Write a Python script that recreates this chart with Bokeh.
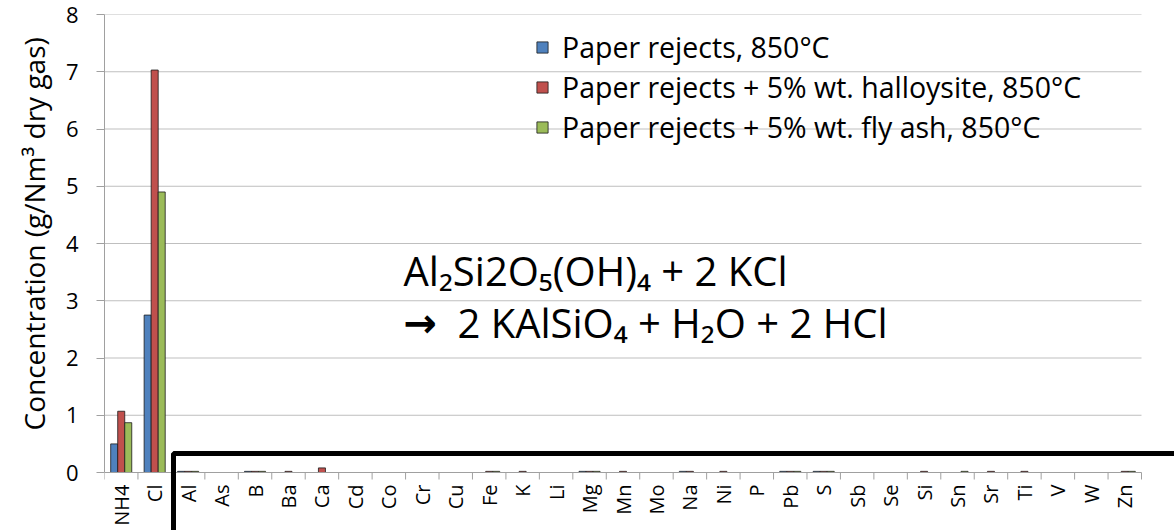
import math
from bokeh.plotting import figure
from bokeh.models import (Range1d, FixedTicker, Legend, LegendItem, Label,
                          BoxAnnotation, ColumnDataSource, Title)
from bokeh.core.properties import value
from bokeh.embed import file_html
from bokeh.resources import INLINE

# ---------------- data ----------------
categories = ["NH4", "Cl", "Al", "As", "B", "Ba", "Ca", "Cd", "Co", "Cr", "Cu",
              "Fe", "K", "Li", "Mg", "Mn", "Mo", "Na", "Ni", "P", "Pb", "S",
              "Sb", "Se", "Si", "Sn", "Sr", "Ti", "V", "W", "Zn"]

paper_rejects = [0.50, 2.75, 0.02, 0, 0.02, 0, 0, 0, 0, 0, 0,
                 0, 0, 0, 0.02, 0, 0, 0.02, 0, 0, 0.02, 0.02,
                 0, 0, 0, 0, 0, 0, 0, 0, 0]
halloysite = [1.07, 7.03, 0.02, 0, 0.02, 0.02, 0.08, 0, 0, 0, 0,
              0.02, 0.02, 0, 0.02, 0.02, 0, 0.02, 0.02, 0, 0.02, 0.02,
              0, 0, 0.02, 0, 0.02, 0.02, 0, 0, 0.02]
fly_ash = [0.87, 4.90, 0.02, 0, 0.02, 0, 0, 0, 0, 0, 0,
           0.02, 0, 0, 0.02, 0, 0, 0, 0, 0, 0.02, 0.02,
           0, 0, 0, 0.02, 0, 0, 0, 0, 0.02]

series_labels = ["Paper rejects, 850°C",
                 "Paper rejects + 5% wt. halloysite, 850°C",
                 "Paper rejects + 5% wt. fly ash, 850°C"]
series_values = [paper_rejects, halloysite, fly_ash]
series_colors = ["#4F81BD", "#C0504D", "#9BBB59"]

y_ticks = [0, 1, 2, 3, 4, 5, 6, 7, 8]
y_label = "Concentration (g/Nm³ dry gas)"
equation_line1 = "Al₂Si2O₅(OH)₄ + 2 KCl"
equation_arrow = "→"
equation_line2 = "2 KAlSiO₄ + H₂O + 2 HCl"

# ---------------- layout constants ----------------
FONT = "Open Sans"
W, H = 1174, 530
LEFT, TOP = 104, 14          # frame left / top in pixels
PX_PER_CAT = 1037 / 31       # category pitch in pixels
PX_PER_UNIT = 458 / 8        # y pixels per unit
n = len(categories)
x_end = (W - LEFT) / PX_PER_CAT
y_start = -(H - TOP) / PX_PER_UNIT + 8
bar_w = 0.21
offsets = [-bar_w, 0.0, bar_w]
AX_GREY = "#a0a0a0"

p = figure(width=W, height=H,
           x_range=Range1d(0, x_end), y_range=Range1d(y_start, 8),
           x_axis_location=None,
           output_backend="svg", toolbar_location=None,
           min_border_left=LEFT, min_border_right=0,
           min_border_top=TOP, min_border_bottom=0)
p.outline_line_color = None
p.background_fill_color = "white"
p.xgrid.visible = False
p.ygrid.visible = False

# horizontal gridlines (limited to the category span)
grid_y = [t for t in y_ticks if t > 0]
p.segment(x0=[0] * len(grid_y), x1=[n] * len(grid_y), y0=grid_y, y1=grid_y,
          line_color="#bfbfbf", line_width=1)

# bars
items = []
for label, vals, color, off in zip(series_labels, series_values, series_colors, offsets):
    xs = [k + 0.5 + off for k, v in enumerate(vals) if v > 0]
    tops = [v for v in vals if v > 0]
    src = ColumnDataSource(dict(x=xs, top=tops))
    r = p.vbar(x="x", top="top", bottom=0, width=bar_w, source=src,
               fill_color=color, line_color="#1a1a1a", line_width=0.8)
    items.append(LegendItem(label=label, renderers=[r]))

# category axis drawn from the data: baseline, boundary ticks, labels
tick_len = 7 / PX_PER_UNIT
p.segment(x0=[0], x1=[n], y0=[0], y1=[0], line_color=AX_GREY, line_width=1)
bounds_x = list(range(n + 1))
p.segment(x0=bounds_x, x1=bounds_x, y0=[0] * (n + 1), y1=[-tick_len] * (n + 1),
          line_color=AX_GREY, line_width=1)
centers = [k + 0.5 for k in range(n)]
p.text(x=centers, y=[-12 / PX_PER_UNIT] * n, text=categories, angle=math.pi / 2,
       text_align="right", text_baseline="middle",
       text_font=value(FONT), text_font_size=value("20px"), text_color="black")

# y axis (ticks + numbers)
p.yaxis.ticker = FixedTicker(ticks=y_ticks)
p.yaxis.bounds = (0, 8)
p.yaxis.axis_line_color = AX_GREY
p.yaxis.major_tick_line_color = AX_GREY
p.yaxis.major_tick_out = 8
p.yaxis.major_tick_in = 0
p.yaxis.minor_tick_out = 0
p.yaxis.major_label_standoff = 18
p.yaxis.major_label_text_font = FONT
p.yaxis.major_label_text_font_size = "22px"
p.yaxis.major_label_text_color = "black"

# vertical axis title, placed as a left-side title so it can sit a bit higher
p.add_layout(Title(text=y_label, align="left", offset=100, standoff=20,
                   text_font=FONT, text_font_size="28px",
                   text_font_style="normal", text_color="black"), "left")

legend = Legend(items=items, location=(431, 384), orientation="vertical",
                label_text_font=FONT, label_text_font_size="28.5px",
                label_text_color="black",
                glyph_width=14, glyph_height=14, label_height=30,
                spacing=2, padding=0, margin=0, label_standoff=13,
                border_line_color=None, background_fill_alpha=0)
p.add_layout(legend)

p.add_layout(Label(x=8.94, y=3.53, text=equation_line1, text_font=FONT,
                   text_font_size="40px", text_color="black",
                   text_baseline="alphabetic", text_align="left"))
p.add_layout(Label(x=8.94, y=2.62, text=equation_arrow, text_font="DejaVu Sans",
                   text_font_style="bold",
                   text_font_size="40px", text_color="black",
                   text_baseline="alphabetic", text_align="left"))
p.add_layout(Label(x=10.55, y=2.62, text=equation_line2, text_font=FONT,
                   text_font_size="40px", text_color="black",
                   text_baseline="alphabetic", text_align="left"))

# highlight frame around the trace elements (runs past the canvas edges)
p.add_layout(BoxAnnotation(left=2.063, right=n + 5, bottom=y_start - 2, top=0.332,
                           fill_alpha=0, line_color="black", line_alpha=1,
                           line_width=5))

open("out.html", "w").write(file_html(p, INLINE))
